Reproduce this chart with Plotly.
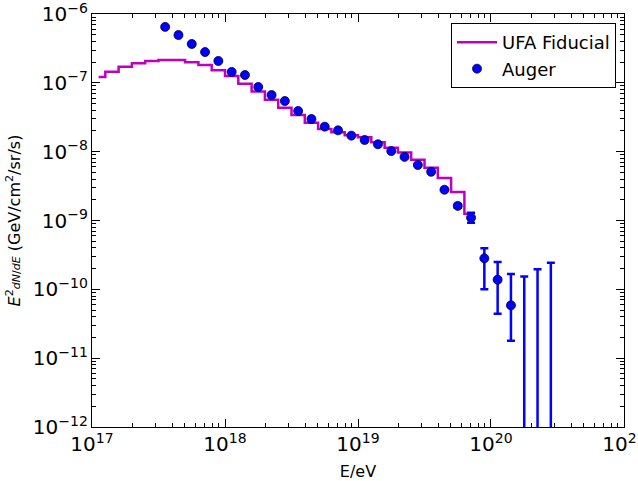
import numpy as np
import plotly.graph_objects as go

# UFA Fiducial model (bin centres in log10(E/eV), E^2 dN/dE)
ufa_logE = [17.05, 17.15, 17.25, 17.35, 17.45, 17.55, 17.65, 17.75, 17.85, 17.95,
            18.05, 18.15, 18.25, 18.35, 18.45, 18.55, 18.65, 18.75, 18.85, 18.95,
            19.05, 19.15, 19.25, 19.35, 19.45, 19.55, 19.65, 19.75, 19.85]
ufa_flux = [1.22e-7, 1.45e-7, 1.72e-7, 1.92e-7, 2.07e-7, 2.14e-7, 2.14e-7, 1.99e-7, 1.82e-7, 1.52e-7,
            1.26e-7, 9.7e-8, 7.5e-8, 5.7e-8, 4.35e-8, 3.41e-8, 2.64e-8, 2.13e-8, 1.91e-8, 1.73e-8,
            1.62e-8, 1.37e-8, 1.14e-8, 9.7e-9, 7.6e-9, 5.85e-9, 4.14e-9, 2.59e-9, 1.25e-9]

# Auger data
auger_logE = [17.55, 17.65, 17.75, 17.85, 17.95, 18.05, 18.15, 18.25, 18.35, 18.45,
              18.55, 18.65, 18.75, 18.85, 18.95, 19.05, 19.15, 19.25, 19.35, 19.45,
              19.55, 19.65, 19.75, 19.85, 19.95, 20.05, 20.15, 20.25, 20.35, 20.45]
auger_flux = [6.5e-7, 4.95e-7, 3.67e-7, 2.8e-7, 2.08e-7, 1.44e-7, 1.3e-7, 8.7e-8, 6.65e-8, 5.44e-8,
              3.9e-8, 2.98e-8, 2.31e-8, 2.04e-8, 1.71e-8, 1.48e-8, 1.28e-8, 1.02e-8, 8.4e-9, 6.4e-9,
              5.1e-9, 2.8e-9, 1.63e-9, 1.1e-9, 2.82e-10, 1.38e-10, 5.85e-11, 1e-15, 1e-15, 1e-15]
auger_err_plus = [0, 0, 0, 0, 0, 0, 0, 0, 0, 0,
                  0, 0, 0, 0, 0, 0, 0, 0, 0, 0,
                  0, 0, 1.0e-10, 2.0e-10, 1.12e-10, 1.11e-10, 1.08e-10, 1.53e-10, 1.95e-10, 2.44e-10]
auger_err_minus = [0, 0, 0, 0, 0, 0, 0, 0, 0, 0,
                   0, 0, 0, 0, 0, 0, 0, 0, 0, 0,
                   0, 0, 1.0e-10, 1.7e-10, 1.82e-10, 0.94e-10, 4.06e-11, 0, 0, 0]

ufa_E = [10 ** v for v in ufa_logE]
auger_E = [10 ** v for v in auger_logE]

fig = go.Figure()
fig.add_trace(go.Scatter(
    x=ufa_E, y=ufa_flux, mode="lines", name="UFA Fiducial",
    line=dict(color="#bf00bf", width=2.5, shape="hvh"),
))
fig.add_trace(go.Scatter(
    x=auger_E, y=auger_flux, mode="markers", name="Auger",
    marker=dict(color="#0000ff", size=9, line=dict(color="#000033", width=0.8)),
    error_y=dict(type="data", symmetric=False, array=auger_err_plus,
                 arrayminus=auger_err_minus, color="#0000ff", thickness=2.5, width=4),
))

font = dict(family="DejaVu Sans", size=16, color="black")
axis_common = dict(
    type="log", showgrid=False, zeroline=False, showline=True, linecolor="black",
    linewidth=1, mirror="allticks", ticks="inside", ticklen=8, tickcolor="black",
    exponentformat="power", dtick=1, tickfont=font, automargin=False,
    ticklabeloverflow="allow",
    minor=dict(ticks="inside", ticklen=4, tickcolor="black", showgrid=False),
)
fig.update_xaxes(range=[16.9999, 21.0001],
                 title=dict(text="E/eV", font=font, standoff=10), **axis_common)
fig.update_yaxes(range=[-12.0001, -5.9999],
                 title=dict(text="<i>E</i><sup>2</sup><span style='font-size:11px'><i>dN</i>/<i>dE</i></span>"
                                 " (GeV/cm<sup>2</sup>/sr/s)",
                            font=font, standoff=8), **axis_common)

fig.update_layout(
    width=638, height=481,
    margin=dict(l=92, r=14, t=14, b=54),
    plot_bgcolor="white", paper_bgcolor="white",
    font=font,
    showlegend=True,
    legend=dict(x=0.985, y=0.978, xanchor="right", yanchor="top",
                bordercolor="black", borderwidth=1, bgcolor="white",
                itemwidth=40, font=dict(family="DejaVu Sans", size=18)),
)

fig.write_html("out.html",
               config={"displayModeBar": False},
               post_script="document.body.style.margin='0';document.body.style.overflow='hidden';")
